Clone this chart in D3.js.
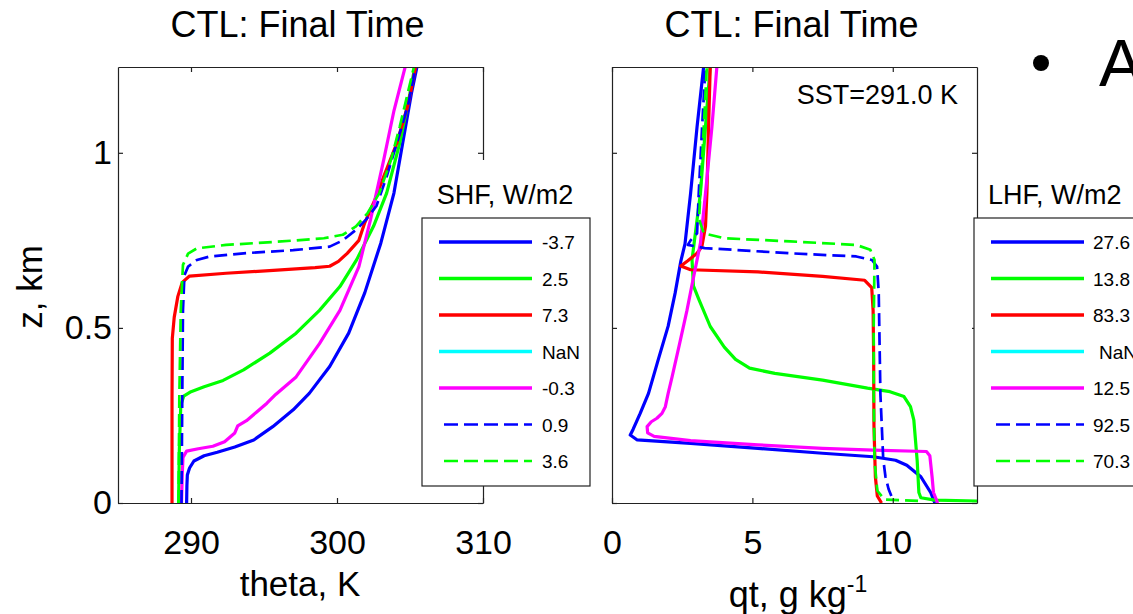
<!DOCTYPE html>
<html><head><meta charset="utf-8">
<script src="https://cdn.jsdelivr.net/npm/d3@7"></script>
<style>
html,body{margin:0;padding:0;background:#fff;}
svg{display:block;font-family:"Liberation Sans",Arial,Helvetica,sans-serif;}
</style></head>
<body><svg id="chart" width="1133" height="614"></svg>
<script>
// ---------- data ----------
const titles = ["CTL: Final Time", "CTL: Final Time"];
const shfLabels = ["-3.7", "2.5", "7.3", "NaN", "-0.3", "0.9", "3.6"];
const lhfLabels = ["27.6", "13.8", "83.3", "NaN", "12.5", "92.5", "70.3"];
const thetaTicks = [290, 300, 310];
const qtTicks = [0, 5, 10];
const zTicks = [0, 0.5, 1];
const zTickLabels = ["0", "0.5", "1"];
const sstText = "SST=291.0 K";

// theta profiles [theta K, z km]
const thetaBlue = [[289.7,0],[289.72,0.05],[289.75,0.08],[289.9,0.1],[290.2,0.12],[290.9,0.135],[291.8,0.145],[293.0,0.16],[294.3,0.18],[295.6,0.218],[297.0,0.266],[298.1,0.313],[299.5,0.39],[300.8,0.485],[301.9,0.6],[303.0,0.742],[303.9,0.885],[304.5,1.028],[305.1,1.17],[305.5,1.25]];
const thetaGreen = [[289.15,0],[289.2,0.15],[289.3,0.28],[289.5,0.305],[290.0,0.318],[290.9,0.332],[292.2,0.35],[293.6,0.38],[295.4,0.428],[297.2,0.485],[298.8,0.55],[300.2,0.618],[301.35,0.695],[302.5,0.79],[303.4,0.885],[304.3,1.028],[305.0,1.17],[305.35,1.25]];
const thetaRed = [[288.7,0],[288.7,0.3],[288.72,0.47],[288.85,0.53],[289.1,0.59],[289.4,0.63],[289.9,0.648],[292.4,0.656],[295.9,0.665],[298.5,0.672],[299.5,0.676],[300.1,0.69],[300.7,0.713],[301.5,0.75],[301.9,0.8],[302.6,0.866],[303.2,0.932],[304.1,1.028],[304.9,1.142],[305.4,1.25]];
const thetaCyan = [];
const thetaMagenta = [[289.35,0],[289.4,0.08],[289.45,0.13],[289.7,0.148],[290.5,0.155],[291.5,0.162],[292.3,0.175],[293.0,0.2],[293.2,0.22],[293.8,0.235],[294.5,0.26],[295.2,0.285],[295.8,0.31],[297.2,0.36],[298.8,0.455],[300.2,0.55],[301.5,0.675],[302.3,0.81],[303.2,0.98],[303.9,1.12],[304.7,1.25]];
const thetaBlueDash = [[289.35,0],[289.4,0.3],[289.45,0.55],[289.55,0.65],[289.8,0.675],[290.4,0.694],[291.3,0.704],[293.6,0.713],[297.0,0.722],[299.5,0.732],[300.4,0.75],[301.3,0.78],[302.0,0.81],[302.7,0.848],[303.4,0.932],[304.1,1.028],[304.9,1.142],[305.4,1.25]];
const thetaGreenDash = [[289.15,0],[289.2,0.3],[289.3,0.55],[289.45,0.68],[289.8,0.712],[290.4,0.727],[292.4,0.737],[295.9,0.746],[299.1,0.756],[300.4,0.766],[301.3,0.79],[302.1,0.828],[302.9,0.885],[303.7,0.98],[304.3,1.075],[305.3,1.25]];

// qt profiles [qt g/kg, z km]
const qtBlue = [[11.5,0],[11.35,0.03],[11.0,0.075],[10.5,0.108],[10.1,0.122],[9.3,0.132],[7.5,0.142],[5.2,0.156],[2.8,0.17],[0.9,0.18],[0.65,0.194],[0.75,0.21],[1.0,0.255],[1.3,0.313],[1.65,0.41],[2.0,0.505],[2.25,0.6],[2.45,0.69],[2.6,0.74],[2.8,0.885],[3.03,1.075],[3.27,1.25]];
const qtGreen = [[13.5,0.005],[11.5,0.008],[11.0,0.015],[10.93,0.03],[10.87,0.12],[10.75,0.237],[10.63,0.275],[10.4,0.304],[9.9,0.318],[9.1,0.328],[7.5,0.351],[5.8,0.37],[4.9,0.385],[4.4,0.41],[4.0,0.445],[3.5,0.504],[3.1,0.58],[2.9,0.62],[2.85,0.694],[3.0,0.79],[3.15,0.885],[3.33,1.075],[3.5,1.25]];
const qtRed = [[9.6,0],[9.45,0.02],[9.38,0.075],[9.33,0.22],[9.32,0.41],[9.3,0.55],[9.25,0.615],[9.0,0.636],[7.5,0.647],[5.2,0.66],[2.8,0.666],[2.45,0.677],[2.7,0.692],[3.03,0.713],[3.2,0.732],[3.33,0.79],[3.38,0.885],[3.44,1.075],[3.5,1.25]];
const qtCyan = [];
const qtMagenta = [[11.6,0],[11.45,0.03],[11.4,0.075],[11.32,0.135],[11.2,0.147],[9.3,0.151],[7.5,0.156],[5.2,0.166],[2.8,0.178],[1.5,0.19],[1.27,0.2],[1.25,0.218],[1.4,0.232],[1.6,0.242],[1.78,0.256],[1.9,0.275],[2.0,0.313],[2.14,0.36],[2.41,0.456],[2.67,0.55],[2.91,0.647],[3.15,0.742],[3.33,0.885],[3.56,1.075],[3.74,1.25]];
const qtBlueDash = [[9.95,0.02],[9.85,0.04],[9.74,0.075],[9.66,0.125],[9.56,0.31],[9.5,0.6],[9.44,0.675],[9.26,0.694],[8.7,0.704],[6.35,0.713],[3.3,0.728],[2.7,0.737],[2.8,0.75],[3.03,0.77],[3.09,0.885],[3.21,1.075],[3.33,1.25]];
const qtGreenDash = [[10.9,0.006],[9.7,0.01],[9.45,0.035],[9.35,0.12],[9.32,0.31],[9.32,0.5],[9.35,0.694],[9.2,0.723],[8.7,0.737],[6.35,0.747],[4.0,0.756],[3.27,0.77],[3.1,0.81],[3.15,0.885],[3.27,1.075],[3.38,1.25]];

const thetaSeries = [thetaBlue, thetaGreen, thetaRed, thetaCyan, thetaMagenta, thetaBlueDash, thetaGreenDash];
const qtSeries = [qtBlue, qtGreen, qtRed, qtCyan, qtMagenta, qtBlueDash, qtGreenDash];

// ---------- styles ----------
const colors = ["#0000ff", "#00ff00", "#ff0000", "#00ffff", "#ff00ff", "#0000ff", "#00ff00"];
const dashed = [false, false, false, false, false, true, true];
const FONT = 34;

const svg = d3.select("#chart");
const yTop = 67, yBot = 503;
const y = d3.scaleLinear().domain([0, 1.245]).range([yBot, yTop]);

function panel(idx, x0, x1, xDomain, xTicks, series, showYLabels) {
  const x = d3.scaleLinear().domain(xDomain).range([x0, x1]);
  const g = svg.append("g");
  const clipId = "clip" + idx;
  svg.append("clipPath").attr("id", clipId).append("rect")
    .attr("x", x0).attr("y", yTop).attr("width", x1 - x0).attr("height", yBot - yTop);

  const line = d3.line().x(d => x(d[0])).y(d => y(d[1]));
  const lg = g.append("g").attr("clip-path", `url(#${clipId})`);
  series.forEach((s, i) => {
    if (!s.length) return;
    lg.append("path").datum(s).attr("d", line)
      .attr("fill", "none").attr("stroke", colors[i])
      .attr("stroke-width", dashed[i] ? 2.7 : 3.2)
      .attr("stroke-linejoin", "round")
      .attr("stroke-dasharray", dashed[i] ? "13,6" : null);
  });

  const bottom = g.append("g").attr("transform", `translate(0,${yBot})`)
    .call(d3.axisBottom(x).tickValues(xTicks).tickSizeInner(-5).tickSizeOuter(0).tickPadding(27).tickFormat(d3.format("d")));
  const top = g.append("g").attr("transform", `translate(0,${yTop})`)
    .call(d3.axisTop(x).tickValues(xTicks).tickSizeInner(-5).tickSizeOuter(0).tickFormat(""));
  const left = g.append("g").attr("transform", `translate(${x0},0)`)
    .call(d3.axisLeft(y).tickValues(zTicks).tickSizeInner(-5).tickSizeOuter(0).tickPadding(6)
      .tickFormat((d, i) => showYLabels ? zTickLabels[i] : ""));
  const right = g.append("g").attr("transform", `translate(${x1},0)`)
    .call(d3.axisRight(y).tickValues(zTicks).tickSizeInner(-5).tickSizeOuter(0).tickFormat(""));
  [bottom, top, left, right].forEach(a => {
    a.selectAll("path,line").attr("stroke", "#222").attr("stroke-width", 1.2);
    a.selectAll("text").attr("font-size", FONT).attr("fill", "#000")
      .attr("font-family", '"Liberation Sans",Arial,sans-serif');
  });
  svg.append("text").attr("x", (x0 + x1) / 2 - 3).attr("y", 37)
    .attr("text-anchor", "middle").attr("font-size", 36).text(titles[idx]);
  return x;
}

panel(0, 118, 483, [285, 310], thetaTicks, thetaSeries, true);
panel(1, 612, 977, [0, 13], qtTicks, qtSeries, false);

// axis labels
svg.append("text").attr("x", 300).attr("y", 596).attr("text-anchor", "middle")
  .attr("font-size", 35).text("theta, K");
const ql = svg.append("text").attr("x", 798).attr("y", 607).attr("text-anchor", "middle")
  .attr("font-size", 36);
ql.append("tspan").text("qt, g kg");
ql.append("tspan").attr("dy", -15).attr("font-size", 23).text("-1");
svg.append("text").attr("transform", "translate(42,287) rotate(-90)")
  .attr("text-anchor", "middle").attr("font-size", 35).text("z, km");

svg.append("text").attr("x", 958).attr("y", 104).attr("text-anchor", "end")
  .attr("font-size", 27).text(sstText);

// legends
function legend(bx, bw, titleX, titleAnchor, labelX, labels, coverTitle, nanShift) {
  const g = svg.append("g");
  if (coverTitle) g.append("rect").attr("x", bx).attr("y", 160).attr("width", bw).attr("height", 58).attr("fill", "#fff");
  g.append("text").attr("x", titleX).attr("y", 204).attr("text-anchor", titleAnchor)
    .attr("font-size", 27).text(labels.title);
  g.append("rect").attr("x", bx).attr("y", 218).attr("width", bw).attr("height", 268)
    .attr("fill", "#fff").attr("stroke", "#222").attr("stroke-width", 1.2);
  const rowY = d3.scaleLinear().domain([0, 6]).range([242, 461]);
  labels.items.forEach((lab, i) => {
    const yy = rowY(i);
    g.append("line").attr("x1", bx + (dashed[i] ? 22 : 17)).attr("x2", bx + 110)
      .attr("y1", yy).attr("y2", yy).attr("stroke", colors[i])
      .attr("stroke-width", dashed[i] ? 2.7 : 3.6)
      .attr("stroke-dasharray", dashed[i] ? "14,6" : null);
    g.append("text").attr("x", labelX + (lab === "NaN" ? nanShift : 0)).attr("y", yy + 7)
      .attr("font-size", 19).text(lab);
  });
}
legend(422, 168, 505, "middle", 542, {title: "SHF, W/m2", items: shfLabels}, true, 0);
legend(974, 180, 988, "start", 1093, {title: "LHF, W/m2", items: lhfLabels}, false, 6);

// slide bullet text
svg.append("circle").attr("cx", 1041).attr("cy", 63).attr("r", 8).attr("fill", "#000");
svg.append("text").attr("x", 1099).attr("y", 86).attr("font-size", 66).text("A");
</script></body></html>
